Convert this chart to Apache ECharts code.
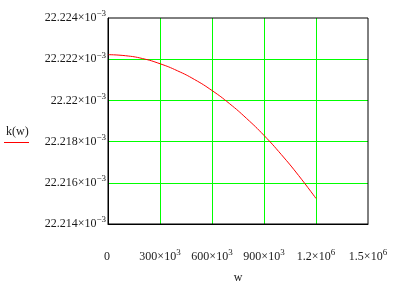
<!DOCTYPE html>
<html><head><meta charset="utf-8">
<script src="https://cdn.jsdelivr.net/npm/echarts@6/dist/echarts.min.js"></script>
<style>html,body{margin:0;padding:0;background:#fff}#c{width:404px;height:289px}</style>
</head><body><div id="c"></div>
<script>
// w values and k(w) values (k in units of 1e-3)
const wValues = [0,100000,200000,300000,400000,500000,600000,700000,800000,900000,1000000,1100000,1200000];
const kValues = [22.22222,22.22217,22.22203,22.22178,22.22144,22.22101,22.22048,22.21985,22.21912,22.21830,22.21737,22.21635,22.21524];
// tick labels: [mantissa, exponent]
const xTickLabels = [['0',' '],['300×10','3'],['600×10','3'],['900×10','3'],['1.2×10','6'],['1.5×10','6']];
const yTickLabels = [['22.214×10','−3'],['22.216×10','−3'],['22.218×10','−3'],['22.22×10','−3'],['22.222×10','−3'],['22.224×10','−3']];

const font = 'Liberation Serif';
const rich = {
  a: {fontFamily: font, fontSize: 12, color: '#1a1a1a'},
  b: {fontFamily: font, fontSize: 9, color: '#1a1a1a', padding: [0,0,8,0]}
};
function fmt(arr){
  return function(v, i){
    const t = arr[i];
    if(!t) return '';
    return '{a|' + t[0] + '}{b|' + t[1] + '}';
  };
}
const chart = echarts.init(document.getElementById('c'));
chart.setOption({
  animation: false,
  grid: {left: 108, right: 36, top: 18, bottom: 47, show: true, borderColor: '#000', borderWidth: 1, z: 10},
  xAxis: {
    type: 'value', min: 0, max: 1500000, interval: 300000,
    axisLine: {show: true, lineStyle: {color: '#000', width: 1}},
    axisTick: {show: false},
    splitLine: {show: true, showMinLine: false, showMaxLine: false, lineStyle: {color: '#00ff00', width: 1}},
    axisLabel: {margin: 24, formatter: fmt(xTickLabels), rich: rich},
    name: 'w', nameLocation: 'middle', nameGap: 48,
    nameTextStyle: {fontFamily: font, fontSize: 12, color: '#1a1a1a'}
  },
  yAxis: {
    type: 'value', min: 22.214, max: 22.224, interval: 0.002,
    axisLine: {show: true, lineStyle: {color: '#000', width: 1}},
    axisTick: {show: false},
    splitLine: {show: true, showMinLine: false, showMaxLine: false, lineStyle: {color: '#00ff00', width: 1}},
    axisLabel: {margin: 2, formatter: fmt(yTickLabels), rich: rich}
  },
  graphic: [
    {type: 'text', left: 6, top: 126, style: {text: 'k(w)', font: '12px "Liberation Serif"', fill: '#1a1a1a'}},
    {type: 'line', shape: {x1: 4, y1: 142.5, x2: 29, y2: 142.5}, style: {stroke: '#ff0000', lineWidth: 1}}
  ],
  series: [{
    type: 'line', data: wValues.map((w, i) => [w, kValues[i]]),
    showSymbol: false, smooth: true,
    lineStyle: {color: '#ff0000', width: 1}
  }]
});
</script></body></html>
